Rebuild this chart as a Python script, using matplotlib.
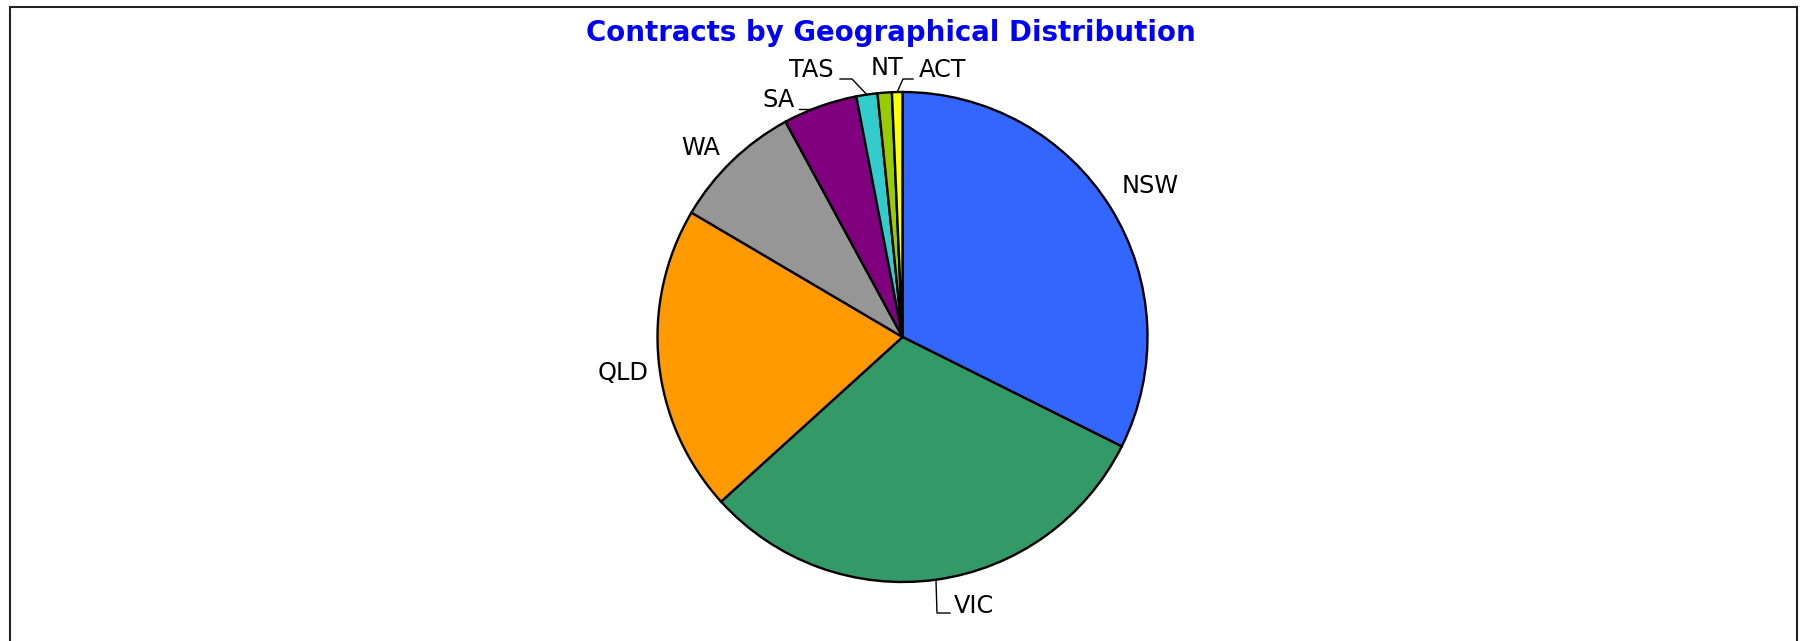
import numpy as np
import matplotlib.pyplot as plt
from matplotlib.patches import Rectangle

regions = ['NSW', 'VIC', 'QLD', 'WA', 'SA', 'TAS', 'NT', 'ACT']
shares = [32.36, 30.9, 20.2, 8.6, 4.9, 1.39, 0.94, 0.69]
colors = ['#3366FF', '#339966', '#FF9900', '#969696',
          '#800080', '#33CCCC', '#99CC00', '#FFFF00']

W, H = 1802, 641
CX, CY, R = 902.5, 337, 245

# label centres (pixel coords, y from top) and optional leader elbows
label_pos = {
    'NSW': (1150, 186), 'VIC': (974, 606), 'QLD': (623, 373),
    'WA': (701, 148), 'SA': (779, 100), 'TAS': (811, 70),
    'NT': (887, 68), 'ACT': (943, 70),
}
leaders = {
    'VIC': [(937, 613), (950, 613)],
    'TAS': [(852, 79), (840, 79)],
    'ACT': [(903, 79), (913, 79)],
}


def flip(p):
    return p[0], H - p[1]


fig = plt.figure(figsize=(W / 100, H / 100), dpi=100)
ax = fig.add_axes([0, 0, 1, 1])
ax.set_xlim(0, W)
ax.set_ylim(0, H)
ax.set_aspect('equal')
ax.axis('off')

wedges, _ = ax.pie(shares, colors=colors, startangle=90, counterclock=False,
                   center=(CX, H - CY), radius=R,
                   wedgeprops=dict(edgecolor='black', linewidth=1.7))
ax.set_xlim(0, W)
ax.set_ylim(0, H)

for w, name in zip(wedges, regions):
    x, y = flip(label_pos[name])
    ax.text(x, y, name, fontsize=17.3, ha='center', va='center', color='black')
    if name in leaders:
        mid = np.deg2rad((w.theta1 + w.theta2) / 2)
        ex, ey = CX + R * np.cos(mid), H - CY + R * np.sin(mid)
        pts = [(ex, ey)] + [flip(p) for p in leaders[name]]
        xs, ys = zip(*pts)
        ax.plot(xs, ys, color='black', linewidth=1.0)

# SA leader: short horizontal stroke running into the pie edge
sa_y = 109
sa_x = CX - np.sqrt(R ** 2 - (CY - sa_y) ** 2)
ax.plot([799, sa_x], [H - sa_y, H - sa_y], color='black', linewidth=1.0)

ax.text(891, H - 33, 'Contracts by Geographical Distribution', fontsize=19.9,
        fontweight='bold', color='#0000FF', ha='center', va='center')

fig.patches.append(Rectangle((10 / W, -0.05), (1797 - 10) / W, 1.05 - 7 / H,
                             transform=fig.transFigure, fill=False,
                             edgecolor='#222222', linewidth=1.5))

fig.savefig('out.png', dpi=100)
